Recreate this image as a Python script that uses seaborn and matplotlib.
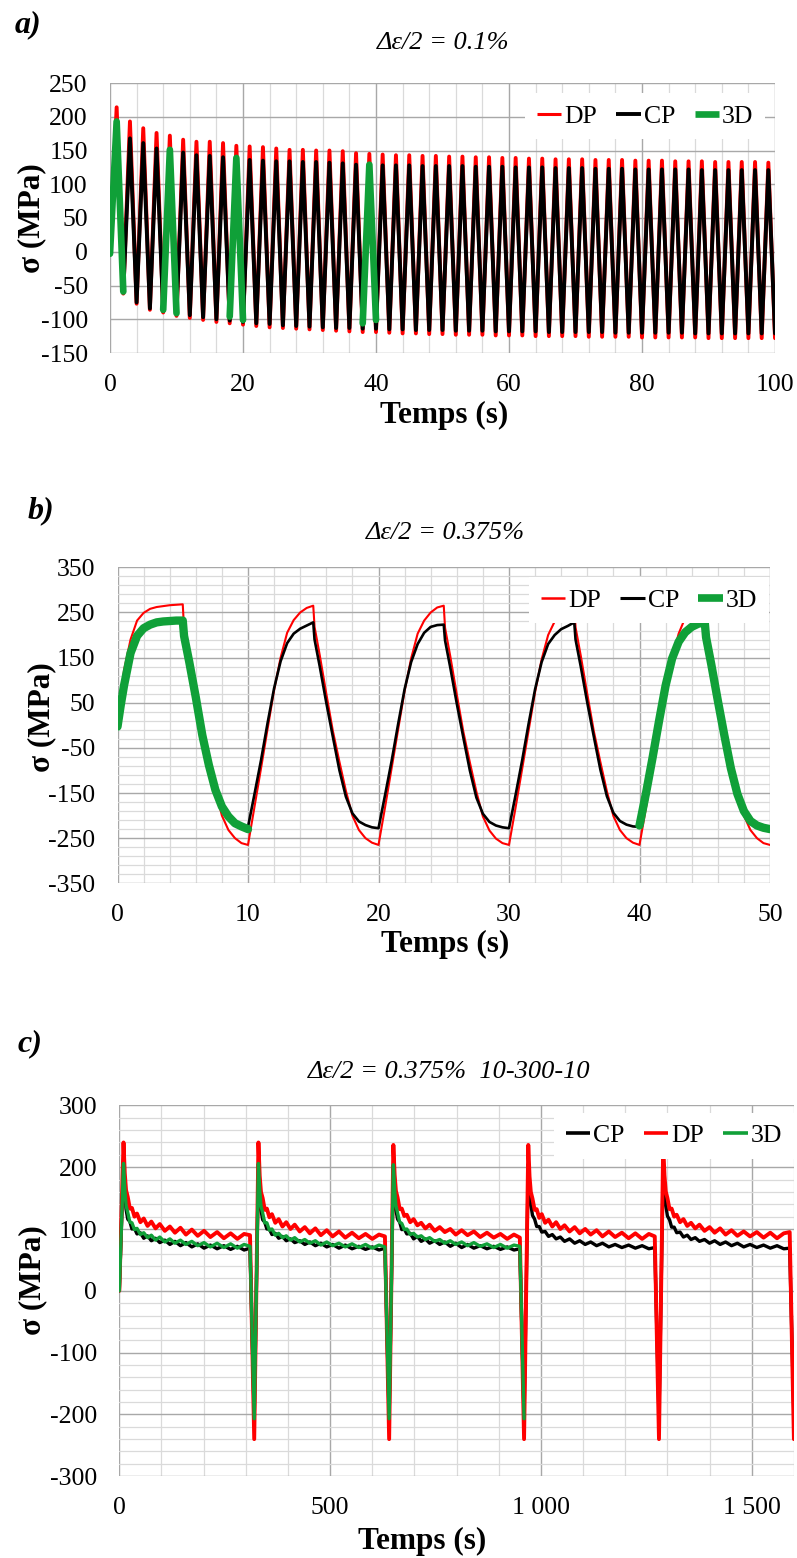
import numpy as np
import pandas as pd
import matplotlib
matplotlib.use("Agg")
import matplotlib.pyplot as plt
from matplotlib.lines import Line2D
import seaborn as sns

# ---------------- data : panel a (Δε/2 = 0.1 %) ----------------
a_peak_t = list(range(1, 100, 2))
a_trough_t = list(range(2, 101, 2))
a_dp_peaks = [214, 193, 183, 176, 172, 166, 163, 163, 161, 157,
              156, 155, 153, 151, 151, 150, 150, 149, 146, 145,
              144, 143, 143, 142, 142, 141, 141, 140, 140, 139,
              139, 138, 138, 137, 137, 137, 136, 136, 136, 135,
              135, 135, 134, 134, 134, 133, 133, 133, 133, 132]
a_dp_troughs = [-62, -77, -86, -90, -95, -98, -101, -104, -106, -108,
                -110, -112, -113, -114, -115, -116, -117, -118, -119, -119,
                -120, -121, -121, -122, -122, -123, -123, -123, -124, -124,
                -124, -125, -125, -125, -125, -126, -126, -126, -126, -127,
                -127, -127, -127, -127, -128, -128, -128, -128, -128, -128]
a_cp_peaks = [188, 168, 161, 153, 150, 147, 143, 142, 140, 138,
              136, 135, 134, 134, 133, 133, 132, 131, 129, 128,
              128, 128, 128, 127, 127, 127, 127, 126, 126, 126,
              125, 125, 125, 124, 124, 124, 123, 123, 123, 122,
              122, 122, 122, 122, 121, 121, 121, 121, 121, 121]
a_cp_troughs = [-60, -75, -84, -88, -91, -94, -97, -100, -102, -104,
                -106, -107, -109, -110, -111, -112, -113, -113, -114, -114,
                -115, -115, -116, -116, -116, -117, -117, -117, -118, -118,
                -118, -118, -119, -119, -119, -119, -119, -120, -120, -120,
                -120, -120, -120, -121, -121, -121, -121, -121, -121, -121]
a_3d_time = [0, 1, 2, 8, 9, 10, 18, 19, 20, 38, 39, 40]
a_3d_stress = [-3, 193, -59, -86, 151, -91, -96, 139, -101, -106, 129, -101]
a_3d_cycle = [1, 1, 1, 5, 5, 5, 10, 10, 10, 20, 20, 20]
a_xticks = [0, 20, 40, 60, 80, 100]
a_yticks = [-150, -100, -50, 0, 50, 100, 150, 200, 250]

# ---------------- data : panel b (Δε/2 = 0.375 %) ----------------
b_dp_time = [0, 0.25, 0.5, 1, 1.5, 2, 2.5, 3, 3.5, 4, 4.5, 5,
             5.1, 5.5, 6, 6.5, 7, 7.5, 8, 8.5, 9, 9.5, 10,
             10.5, 11, 11.5, 12, 12.5, 13, 13.5, 14, 14.5, 15,
             15.1, 15.5, 16, 16.5, 17, 17.5, 18, 18.5, 19, 19.5, 20,
             20.5, 21, 21.5, 22, 22.5, 23, 23.5, 24, 24.5, 25,
             25.1, 25.5, 26, 26.5, 27, 27.5, 28, 28.5, 29, 29.5, 30,
             30.5, 31, 31.5, 32, 32.5, 33, 33.5, 34, 34.5, 35,
             35.1, 35.5, 36, 36.5, 37, 37.5, 38, 38.5, 39, 39.5, 40,
             40.5, 41, 41.5, 42, 42.5, 43, 43.5, 44, 44.3, 44.6, 45,
             45.1, 45.5, 46, 46.5, 47, 47.5, 48, 48.5, 49, 49.5, 50]
b_dp = [0, 62, 122, 190, 232, 249, 258, 262, 264, 266, 267, 268,
        215, 155, 71, -10, -77, -143, -200, -232, -250, -261, -265,
        -180, -95, -8, 78, 150, 205, 233, 250, 260, 265,
        218, 155, 70, -12, -80, -145, -200, -232, -250, -260, -265,
        -182, -96, -10, 76, 148, 203, 232, 250, 261, 265,
        216, 153, 68, -14, -82, -147, -202, -233, -251, -261, -265,
        -183, -98, -12, 74, 146, 200, 230, 249, 260, 264,
        217, 154, 69, -13, -81, -146, -201, -232, -250, -260, -265,
        -182, -96, -10, 75, 148, 203, 238, 255, 263, 257, 262,
        215, 155, 70, -12, -80, -145, -200, -232, -250, -261, -265]
b_cp_time = [10,
             10.5, 11, 11.5, 12, 12.5, 13, 13.5, 14, 14.5, 15,
             15.1, 15.5, 16, 16.5, 17, 17.5, 18, 18.5, 19, 19.5, 20,
             20.5, 21, 21.5, 22, 22.5, 23, 23.5, 24, 24.5, 25,
             25.1, 25.5, 26, 26.5, 27, 27.5, 28, 28.5, 29, 29.5, 30,
             30.5, 31, 31.5, 32, 32.5, 33, 33.5, 34, 34.5, 35,
             35.1, 35.5, 36, 36.5, 37, 37.5, 38, 38.5, 39, 39.5, 40]
b_cp = [-225,
        -152, -77, 5, 82, 142, 182, 203, 214, 221, 228,
        190, 130, 50, -25, -99, -158, -195, -213, -221, -226, -228,
        -155, -80, 2, 80, 140, 180, 205, 218, 222, 223,
        188, 128, 48, -27, -100, -160, -196, -214, -222, -226, -228,
        -155, -79, 3, 80, 140, 180, 200, 213, 220, 228,
        190, 130, 50, -25, -98, -157, -194, -212, -220, -224, -225]
b_3d_time = [0, 0.25, 0.5, 1, 1.5, 2, 2.5, 3, 3.5, 4, 4.5, 5,
             5.1, 5.5, 6, 6.5, 7, 7.5, 8, 8.5, 9, 9.5, 10,
             40, 40.5, 41, 41.5, 42, 42.5, 43, 43.5, 44, 44.5, 45,
             45.1, 45.5, 46, 46.5, 47, 47.5, 48, 48.5, 49, 49.5, 50]
b_3d = [-3, 45, 88, 160, 198, 215, 223, 228, 230, 231, 232, 232,
        198, 140, 62, -22, -88, -143, -180, -202, -217, -224, -230,
        -222, -150, -72, 10, 88, 148, 185, 206, 218, 225, 228,
        195, 135, 55, -22, -95, -152, -190, -212, -222, -227, -230]
b_3d_cycle = [1] * 23 + [5] * 22
b_xticks = [0, 10, 20, 30, 40, 50]
b_yticks = [-350, -250, -150, -50, 50, 150, 250, 350]

# ---------------- data : panel c (Δε/2 = 0.375 %  10-300-10) ----------------
c_time = [0,
          10, 13, 16, 20, 25, 30, 36, 42, 50, 58, 67, 76, 86, 96, 108, 120, 132, 145, 158, 172,
          186, 201, 216, 232, 248, 264, 280, 296, 310, 320,
          330, 333, 336, 340, 345, 350, 356, 362, 370, 378, 387, 396, 406, 416, 428, 440, 452, 465, 478, 492,
          506, 521, 536, 552, 568, 584, 600, 616, 630, 640,
          650, 653, 656, 660, 665, 670, 676, 682, 690, 698, 707, 716, 726, 736, 748, 760, 772, 785, 798, 812,
          826, 841, 856, 872, 888, 904, 920, 936, 950, 960,
          970, 973, 976, 980, 985, 990, 996, 1002, 1010, 1018, 1027, 1036, 1046, 1056, 1068, 1080, 1092, 1105, 1118, 1132,
          1146, 1161, 1176, 1192, 1208, 1224, 1240, 1256, 1270, 1280,
          1290, 1293, 1296, 1300, 1305, 1310, 1316, 1322, 1330, 1338, 1347, 1356, 1366, 1376, 1388, 1400, 1412, 1425, 1438, 1452,
          1466, 1481, 1496, 1512, 1528, 1544, 1560, 1576, 1590, 1600]
c_dp = [0,
        240, 190, 163, 152, 133, 134, 120, 125, 111, 117, 105, 112, 101, 108, 97, 104, 94, 102, 91, 99,
        89, 97, 87, 95, 85, 93, 84, 92, 90, -240,
        240, 186, 160, 150, 131, 133, 119, 124, 110, 116, 104, 111, 100, 107, 96, 103, 93, 101, 90, 98,
        88, 96, 86, 94, 85, 92, 84, 91, 88, -240,
        236, 188, 162, 151, 132, 133, 121, 123, 111, 116, 106, 110, 101, 107, 97, 103, 95, 100, 91, 98,
        90, 96, 87, 94, 86, 92, 84, 91, 86, -240,
        236, 185, 160, 149, 131, 132, 118, 124, 110, 115, 104, 111, 100, 106, 96, 103, 93, 100, 91, 98,
        88, 96, 87, 94, 85, 93, 84, 92, 88, -240,
        236, 187, 161, 150, 132, 133, 120, 123, 111, 116, 105, 110, 101, 107, 97, 103, 94, 101, 91, 98,
        89, 96, 88, 95, 86, 94, 85, 93, 95, -240]
c_cp = [0,
        205, 158, 132, 116, 112, 100, 101, 92, 94, 85, 89, 81, 85, 78, 82, 75, 80, 73, 78, 71,
        76, 69, 74, 68, 73, 67, 72, 66, 69, -205,
        205, 156, 131, 115, 111, 100, 100, 91, 93, 85, 88, 81, 84, 78, 81, 75, 79, 73, 77, 71,
        75, 69, 74, 68, 72, 67, 71, 66, 69, -205,
        203, 157, 131, 116, 111, 99, 100, 92, 93, 84, 88, 80, 84, 77, 81, 75, 79, 72, 77, 70,
        75, 69, 73, 68, 72, 67, 71, 66, 68, -205,
        205, 168, 140, 122, 116, 104, 104, 95, 96, 88, 91, 84, 87, 80, 84, 77, 81, 75, 79, 73,
        77, 71, 75, 70, 74, 69, 73, 68, 70, -205,
        205, 166, 139, 121, 115, 103, 103, 94, 95, 87, 90, 83, 86, 80, 83, 77, 81, 75, 79, 73,
        77, 71, 75, 70, 74, 69, 73, 68, 69, -205]
c_3d = [0,
        206, 165, 138, 127, 111, 110, 99, 101, 91, 94, 86, 90, 82, 87, 79, 84, 77, 82, 75, 80,
        73, 78, 71, 77, 70, 76, 69, 75, 72, -207,
        206, 163, 137, 126, 110, 110, 98, 100, 90, 93, 86, 89, 82, 86, 79, 83, 77, 81, 74, 79,
        73, 77, 71, 76, 70, 75, 69, 74, 71, -207,
        204, 164, 138, 126, 111, 109, 99, 100, 91, 93, 87, 89, 83, 86, 80, 83, 77, 81, 75, 79,
        73, 78, 72, 76, 70, 75, 69, 74, 72, -207]
c_xticks = [0, 500, 1000, 1500]
c_xticklabels = ["0", "500", "1 000", "1 500"]
c_yticks = [-300, -200, -100, 0, 100, 200, 300]

# ---------------- style ----------------
sns.set_theme(style="white")
plt.rcParams["font.family"] = ["Liberation Serif", "DejaVu Serif"]
plt.rcParams["axes.unicode_minus"] = False
plt.rcParams["text.color"] = "black"
plt.rcParams["axes.labelcolor"] = "black"
plt.rcParams["xtick.color"] = "black"
plt.rcParams["ytick.color"] = "black"

RED, BLACK, GREEN = "#ff0000", "#000000", "#10a038"
W, H = 797, 1558
fig = plt.figure(figsize=(W / 100, H / 100), dpi=100)


def rect(l, r, t, b):
    return [l / W, 1 - b / H, (r - l) / W, (b - t) / H]


axA = fig.add_axes(rect(110, 775, 83, 353))
axB = fig.add_axes(rect(117.5, 770, 567.3, 883.3))
axC = fig.add_axes(rect(119.3, 793.9, 1105.4, 1476.2))


def style(ax, xlim, ylim, xt, xtl, yt, xminor, yminor):
    ax.set_xlim(*xlim)
    ax.set_ylim(*ylim)
    ax.set_xticks(xt, labels=xtl)
    ax.set_yticks(yt, labels=[str(v) for v in yt])
    if xminor is not None:
        ax.set_xticks(xminor, minor=True)
    if yminor is not None:
        ax.set_yticks(yminor, minor=True)
    ax.grid(which="minor", color="#dadada", lw=0.9)
    ax.grid(which="major", color="#a8a8a8", lw=1.0)
    ax.set_axisbelow(True)
    for s in ax.spines.values():
        s.set_visible(False)
    ax.tick_params(which="major", length=6, width=1.0, color="#a8a8a8",
                   labelsize=18.5, labelcolor="black")
    ax.tick_params(axis="y", which="major", pad=10)
    ax.tick_params(axis="x", which="major", pad=9)
    ax.tick_params(which="minor", length=0)
    ax.set_facecolor("white")


def labels(ax, xl_pos, yl_pos):
    ax.set_xlabel("Temps (s)", fontsize=22.5, fontweight="bold", color="black")
    ax.set_ylabel("σ (MPa)", fontsize=22.5, fontweight="bold", color="black")
    ax.xaxis.set_label_coords(*xl_pos)
    ax.yaxis.set_label_coords(*yl_pos)
    ax.xaxis.label.set_va("center")
    ax.yaxis.label.set_va("center")
    ax.yaxis.label.set_ha("center")


def legend(ax, items, anchor):
    handles = [Line2D([], [], color=c, lw=w, solid_capstyle="butt") for _, c, w in items]
    leg = ax.legend(handles, [n for n, _, _ in items], loc="upper right", bbox_to_anchor=anchor,
                    ncol=3, frameon=True, fancybox=False, framealpha=1, facecolor="white",
                    edgecolor="none", fontsize=18.5, handlelength=0.95, handletextpad=0.12,
                    columnspacing=0.75, borderpad=0.45, borderaxespad=0)
    for t in leg.get_texts():
        t.set_color("black")


# ---------------- panel a ----------------
def zigzag(peaks, troughs):
    t, s = [0], [0]
    for tp, p, tt, v in zip(a_peak_t, peaks, a_trough_t, troughs):
        t += [tp, tt]
        s += [p, v]
    return t, s

t_dp, s_dp = zigzag(a_dp_peaks, a_dp_troughs)
t_cp, s_cp = zigzag(a_cp_peaks, a_cp_troughs)
sns.lineplot(x=t_dp, y=s_dp, ax=axA, color=RED, lw=2.8, sort=False, estimator=None, legend=False)
sns.lineplot(x=t_cp, y=s_cp, ax=axA, color=BLACK, lw=2.8, sort=False, estimator=None, legend=False)
dfa = pd.DataFrame({"t": a_3d_time, "s": a_3d_stress, "c": a_3d_cycle})
sns.lineplot(data=dfa, x="t", y="s", units="c", ax=axA, color=GREEN, lw=4.8,
             sort=False, estimator=None, legend=False)
style(axA, (0, 100), (-150, 250), a_xticks, [str(v) for v in a_xticks], a_yticks,
      np.arange(0, 101, 4), None)
labels(axA, (0.502, -0.23), (-0.117, 0.5))
legend(axA, [("DP", RED, 2.2), ("CP", BLACK, 2.8), ("3D", GREEN, 4.8)], (0.985, 0.963))

# ---------------- panel b ----------------
sns.lineplot(x=b_dp_time, y=b_dp, ax=axB, color=RED, lw=1.5, sort=False, estimator=None, legend=False)
sns.lineplot(x=b_cp_time, y=b_cp, ax=axB, color=BLACK, lw=1.9, sort=False, estimator=None, legend=False)
dfb = pd.DataFrame({"t": b_3d_time, "s": b_3d, "c": b_3d_cycle})
sns.lineplot(data=dfb, x="t", y="s", units="c", ax=axB, color=GREEN, lw=6,
             sort=False, estimator=None, legend=False)
style(axB, (0, 50), (-350, 350), b_xticks, [str(v) for v in b_xticks], b_yticks,
      np.arange(0, 51, 2), np.arange(-350, 351, 20))
labels(axB, (0.502, -0.195), (-0.116, 0.526))
legend(axB, [("DP", RED, 1.8), ("CP", BLACK, 2.2), ("3D", GREEN, 5.5)], (0.998, 0.969))

# ---------------- panel c ----------------
n3d = len(c_3d)
sns.lineplot(x=c_time, y=c_cp, ax=axC, color=BLACK, lw=2.4, sort=False, estimator=None, legend=False)
sns.lineplot(x=c_time, y=c_dp, ax=axC, color=RED, lw=2.8, sort=False, estimator=None, legend=False)
sns.lineplot(x=c_time[:n3d], y=c_3d, ax=axC, color=GREEN, lw=2.4, sort=False, estimator=None, legend=False)
style(axC, (0, 1600), (-300, 300), c_xticks, c_xticklabels, c_yticks,
      np.arange(0, 1601, 100), np.arange(-300, 301, 20))
labels(axC, (0.449, -0.175), (-0.128, 0.529))
legend(axC, [("CP", BLACK, 2.6), ("DP", RED, 2.6), ("3D", GREEN, 2.6)], (1.0, 0.98))

# ---------------- titles and panel letters ----------------
fig.text(443 / W, 1 - 43 / H, "Δε/2 = 0.1%", fontsize=19, style="italic", ha="center", va="center")
fig.text(445 / W, 1 - 533 / H, "Δε/2 = 0.375%", fontsize=19, style="italic", ha="center", va="center")
fig.text(449 / W, 1 - 1072 / H, "Δε/2 = 0.375%  10-300-10", fontsize=19, style="italic",
         ha="center", va="center")
for txt, x, y in [("a)", 15, 25), ("b)", 28, 511), ("c)", 18, 1044)]:
    fig.text(x / W, 1 - y / H, txt, fontsize=23, style="italic", fontweight="bold",
             ha="left", va="center")

fig.savefig("out.png", dpi=100, facecolor="white")
